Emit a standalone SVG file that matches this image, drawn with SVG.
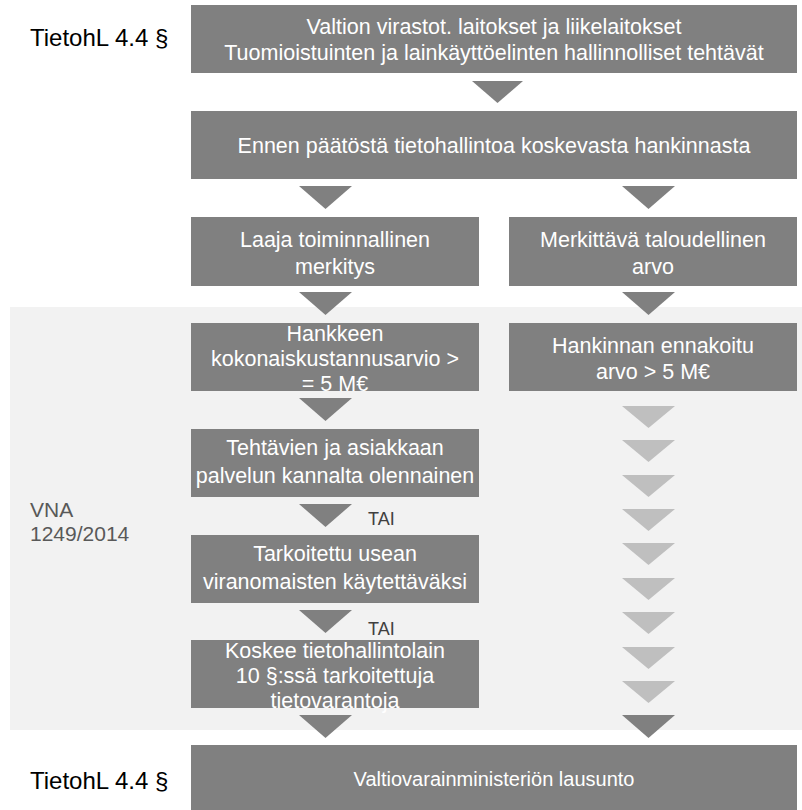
<svg xmlns="http://www.w3.org/2000/svg" width="802" height="810" viewBox="0 0 802 810">
<style>
.box{fill:#808080}
.bt{fill:#ffffff;font-family:"Liberation Sans",Arial,sans-serif;font-size:21.5px;text-anchor:middle}
.lbl{fill:#000000;font-family:"Liberation Sans",Arial,sans-serif;font-size:24px}
.vna{fill:#595959;font-family:"Liberation Sans",Arial,sans-serif;font-size:21px}
.tai{fill:#404040;font-family:"Liberation Sans",Arial,sans-serif;font-size:18px}
.tri{fill:#808080}
.ltri{fill:#bfbfbf}
</style>
<rect x="0" y="0" width="802" height="810" fill="#ffffff"/>
<rect id="vna-bg" x="10" y="307" width="792" height="423" fill="#f2f2f2"/>
<text class="lbl" x="30" y="46">TietohL 4.4 §</text>
<text class="lbl" x="30" y="789">TietohL 4.4 §</text>
<text class="vna" x="30" y="517">VNA</text>
<text class="vna" x="30" y="541">1249/2014</text>

<g id="connectors">
<polygon class="tri" points="472,81 523,81 497.5,103"/>
<polygon class="tri" points="299,186 352,186 325.5,209"/>
<polygon class="tri" points="622,186 675,186 648.5,209"/>
<polygon class="tri" points="299,292 352,292 325.5,315"/>
<polygon class="tri" points="622,292 675,292 648.5,315"/>
<polygon class="tri" points="299,398 352,398 325.5,421"/>
<polygon class="tri" points="299,504 352,504 325.5,527"/>
<polygon class="tri" points="299,610 352,610 325.5,633"/>
<polygon class="tri" points="299,715 352,715 325.5,738"/>
<polygon class="ltri" points="622,406 675,406 648.5,428"/>
<polygon class="ltri" points="622,440 675,440 648.5,462"/>
<polygon class="ltri" points="622,475 675,475 648.5,497"/>
<polygon class="ltri" points="622,509 675,509 648.5,531"/>
<polygon class="ltri" points="622,543 675,543 648.5,565"/>
<polygon class="ltri" points="622,578 675,578 648.5,600"/>
<polygon class="ltri" points="622,612 675,612 648.5,634"/>
<polygon class="ltri" points="622,647 675,647 648.5,669"/>
<polygon class="ltri" points="622,681 675,681 648.5,703"/>
<polygon class="tri" points="622,715 675,715 648.5,738"/>
<text class="tai" x="368" y="525">TAI</text>
<text class="tai" x="368" y="635">TAI</text>
</g>

<g id="n1"><rect class="box" x="191" y="5" width="606" height="68"/>
<text class="bt" x="494" y="34">Valtion virastot. laitokset ja liikelaitokset</text>
<text class="bt" x="494" y="60">Tuomioistuinten ja lainkäyttöelinten hallinnolliset tehtävät</text></g>
<g id="n2"><rect class="box" x="191" y="111" width="606" height="68"/>
<text class="bt" x="494" y="153">Ennen päätöstä tietohallintoa koskevasta hankinnasta</text></g>
<g id="n3"><rect class="box" x="191" y="217" width="288" height="69"/>
<text class="bt" x="335" y="247">Laaja toiminnallinen</text>
<text class="bt" x="335" y="274">merkitys</text></g>
<g id="n4"><rect class="box" x="509" y="217" width="288" height="69"/>
<text class="bt" x="653" y="247">Merkittävä taloudellinen</text>
<text class="bt" x="653" y="274">arvo</text></g>
<g id="n5"><rect class="box" x="191" y="323" width="288" height="68"/>
<text class="bt" x="335" y="341">Hankkeen</text>
<text class="bt" x="335" y="366">kokonaiskustannusarvio &gt;</text>
<text class="bt" x="335" y="391">= 5 M€</text></g>
<g id="n6"><rect class="box" x="509" y="323" width="288" height="68"/>
<text class="bt" x="653" y="353">Hankinnan ennakoitu</text>
<text class="bt" x="653" y="379">arvo  &gt; 5 M€</text></g>
<g id="n7"><rect class="box" x="191" y="429" width="288" height="68"/>
<text class="bt" x="335" y="455">Tehtävien ja asiakkaan</text>
<text class="bt" x="335" y="483">palvelun kannalta olennainen</text></g>
<g id="n8"><rect class="box" x="191" y="535" width="288" height="68"/>
<text class="bt" x="335" y="561">Tarkoitettu usean</text>
<text class="bt" x="335" y="589">viranomaisten käytettäväksi</text></g>
<g id="n9"><rect class="box" x="191" y="640" width="288" height="68"/>
<text class="bt" x="335" y="658">Koskee tietohallintolain</text>
<text class="bt" x="335" y="683">10 §:ssä tarkoitettuja</text>
<text class="bt" x="335" y="708">tietovarantoja</text></g>
<g id="n10"><rect class="box" x="191" y="745" width="606" height="65"/>
<text class="bt" x="494" y="786" style="font-size:20px">Valtiovarainministeriön lausunto</text></g>
</svg>
